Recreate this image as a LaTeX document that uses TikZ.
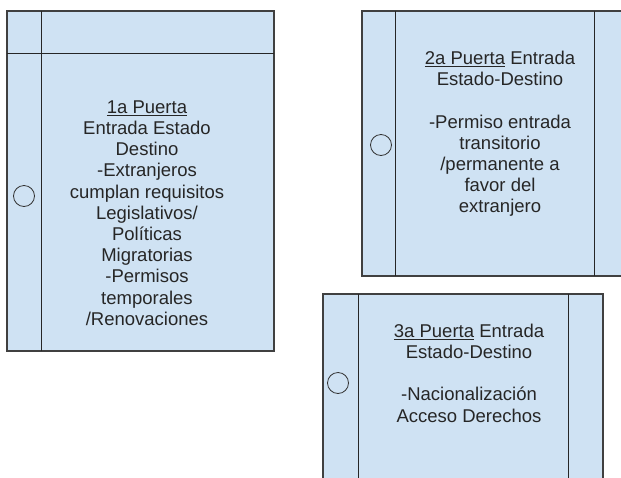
\documentclass[tikz,border=0pt]{standalone}
\usepackage{fontspec}
\setmainfont{Liberation Sans}
\definecolor{doorblue}{RGB}{207,226,243}
\definecolor{doorgray}{RGB}{64,64,64}
\tikzset{
  door/.style={draw=doorgray, line width=1.2pt, fill=doorblue},
  hinge/.style={draw=black!85, line width=1pt},
  knob/.style={circle, draw=black!80, line width=0.8pt, minimum size=21pt, inner sep=0pt},
  doortext/.style={align=center, inner sep=0pt, text=black!85,
    font=\fontsize{18.5}{21.2}\selectfont}
}

\begin{document}
\begin{tikzpicture}[x=1pt,y=-1pt]
    \useasboundingbox (0,0) rectangle (621,477);
    \clip (0,0) rectangle (621,477);
    % First, draw the three doors
        \draw[door] (7,11) rectangle (274,351);
        \draw[door] (362,11) rectangle (640,276);
        \draw[door] (323,294) rectangle (603,490);

    % Now the frame lines of each door
        \draw[hinge] (41,11) -- (41,351);
        \draw[hinge] (7,53) -- (274,53);
        \draw[hinge] (395,11) -- (395,276);
        \draw[hinge] (594,11) -- (594,276);
        \draw[hinge] (358,294) -- (358,490);
        \draw[hinge] (568,294) -- (568,490);

    % The knobs
        \node[knob] (knob1) at (24,196) {};
        \node[knob] (knob2) at (381,145) {};
        \node[knob] (knob3) at (338,383) {};

    % And the texts
        \node[doortext] (puerta1) at (147,213) {\underline{1a Puerta}\\Entrada Estado\\Destino\\-Extranjeros\\cumplan requisitos\\Legislativos/\\Políticas\\Migratorias\\-Permisos\\temporales\\/Renovaciones};
        \node[doortext] (puerta2) at (500,134) {\underline{2a Puerta} Entrada\\Estado-Destino\\[21.2pt]-Permiso entrada\\transitorio\\/permanente a\\favor del\\extranjero};
        \node[doortext] (puerta3) at (469,373) {\underline{3a Puerta} Entrada\\Estado-Destino\\[21.2pt]-Nacionalización\\Acceso Derechos};
\end{tikzpicture}
\end{document}
